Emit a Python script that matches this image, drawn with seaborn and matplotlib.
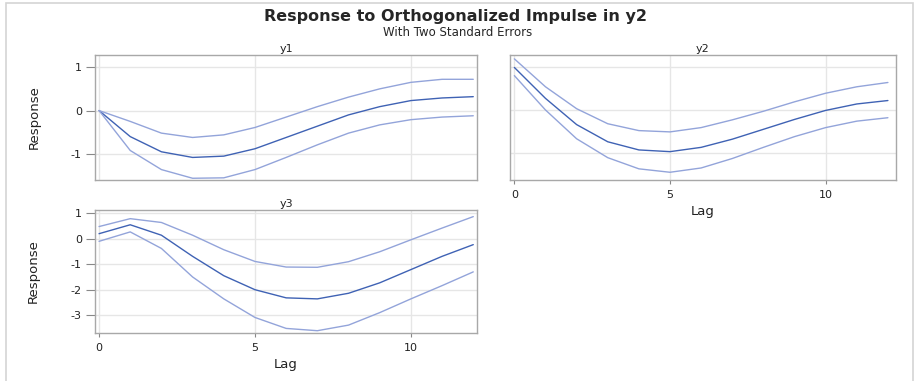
import numpy as np
import pandas as pd
import seaborn as sns
import matplotlib.pyplot as plt
from matplotlib.patches import Rectangle

# Valeurs (réponse à une impulsion dans y2)
lags = list(range(13))

y1_resp = [0.0, -0.60, -0.95, -1.08, -1.05, -0.88, -0.62, -0.36, -0.10, 0.09, 0.23, 0.29, 0.32]
y1_upper = [0.0, -0.25, -0.52, -0.62, -0.56, -0.39, -0.15, 0.09, 0.31, 0.50, 0.65, 0.72, 0.72]
y1_lower = [0.0, -0.92, -1.36, -1.56, -1.55, -1.36, -1.08, -0.79, -0.52, -0.33, -0.21, -0.15, -0.12]

y2_resp = [1.00, 0.28, -0.33, -0.73, -0.92, -0.96, -0.86, -0.67, -0.44, -0.21, 0.00, 0.15, 0.23]
y2_upper = [1.20, 0.55, 0.04, -0.31, -0.47, -0.50, -0.40, -0.22, -0.02, 0.20, 0.40, 0.55, 0.65]
y2_lower = [0.81, 0.01, -0.66, -1.10, -1.36, -1.44, -1.34, -1.12, -0.86, -0.61, -0.40, -0.25, -0.17]

y3_resp = [0.20, 0.55, 0.14, -0.69, -1.45, -2.00, -2.32, -2.36, -2.14, -1.73, -1.21, -0.69, -0.23]
y3_upper = [0.48, 0.79, 0.64, 0.14, -0.43, -0.89, -1.11, -1.12, -0.90, -0.51, -0.04, 0.42, 0.87]
y3_lower = [-0.10, 0.27, -0.38, -1.50, -2.36, -3.09, -3.52, -3.61, -3.39, -2.90, -2.36, -1.84, -1.30]

COL_RESP = "#3f62b4"
COL_BAND = "#93a4da"
FRAME = "#a8a8a8"
GRID = "#e6e6e6"


def make_df(resp, upper, lower):
    return pd.DataFrame({
        "Lag": lags * 3,
        "value": resp + upper + lower,
        "serie": ["resp"] * 13 + ["upper"] * 13 + ["lower"] * 13,
    })


def draw_panel(ax, df, title, ylim, xlim, show_x, show_y, yticks):
    sns.lineplot(data=df, x="Lag", y="value", hue="serie", ax=ax,
                 palette={"resp": COL_RESP, "upper": COL_BAND, "lower": COL_BAND},
                 linewidth=1.0, legend=False)
    ax.set_xlim(*xlim)
    ax.set_ylim(*ylim)
    ax.set_xticks([0, 5, 10])
    ax.set_yticks(yticks)
    ax.grid(True, color=GRID, linewidth=1.0)
    for s in ax.spines.values():
        s.set_color(FRAME)
        s.set_linewidth(1.0)
    ax.set_title(title, fontsize=8, pad=2, color="#222222")
    ax.tick_params(axis="x", bottom=True, colors="#888888", labelcolor="#222222",
                   labelsize=8, length=3, width=0.8, pad=4)
    ax.tick_params(axis="y", left=True, colors="#888888", labelcolor="#222222",
                   labelsize=8, length=6.5, width=0.8, pad=3)
    if show_x:
        ax.set_xlabel("Lag", fontsize=9.5, color="#222222", labelpad=4)
    else:
        ax.set_xlabel("")
        ax.tick_params(axis="x", labelbottom=False, length=0)
    if show_y:
        ax.set_ylabel("Response", fontsize=9.5, color="#222222", labelpad=22)
    else:
        ax.set_ylabel("")
        ax.tick_params(axis="y", labelleft=False, length=0)


sns.set_style("whitegrid")
plt.rcParams["font.family"] = ["DejaVu Sans"]
plt.rcParams["axes.unicode_minus"] = False

fig = plt.figure(figsize=(9.15, 3.81), dpi=100)

# cadre gris autour de la figure
fig.patches.append(Rectangle((6 / 915, -0.01), 907 / 915, 1 - 3 / 381 + 0.01,
                             transform=fig.transFigure, fill=False,
                             edgecolor="#d4d4d4", linewidth=1.2))

ax1 = fig.add_axes([95 / 915, 1 - 180 / 381, 382 / 915, 125 / 381])
ax2 = fig.add_axes([510 / 915, 1 - 180 / 381, 386 / 915, 125 / 381])
ax3 = fig.add_axes([95 / 915, 1 - 333 / 381, 382 / 915, 123 / 381])

draw_panel(ax1, make_df(y1_resp, y1_upper, y1_lower), "y1",
           (-1.6, 1.28), (-0.13, 12.12), False, True, [-1, 0, 1])
draw_panel(ax2, make_df(y2_resp, y2_upper, y2_lower), "y2",
           (-1.62, 1.29), (-0.14, 12.26), True, False, [-1, 0, 1])
draw_panel(ax3, make_df(y3_resp, y3_upper, y3_lower), "y3",
           (-3.7, 1.13), (-0.13, 12.12), True, True, [-3, -2, -1, 0, 1])

fig.text(456 / 915, 1 - 21 / 381, "Response to Orthogonalized Impulse in y2",
         ha="center", va="baseline", fontsize=11.5, fontweight="bold")
fig.text(458 / 915, 1 - 35.5 / 381, "With Two Standard Errors",
         ha="center", va="baseline", fontsize=8.5)

fig.savefig("out.png", dpi=100)
